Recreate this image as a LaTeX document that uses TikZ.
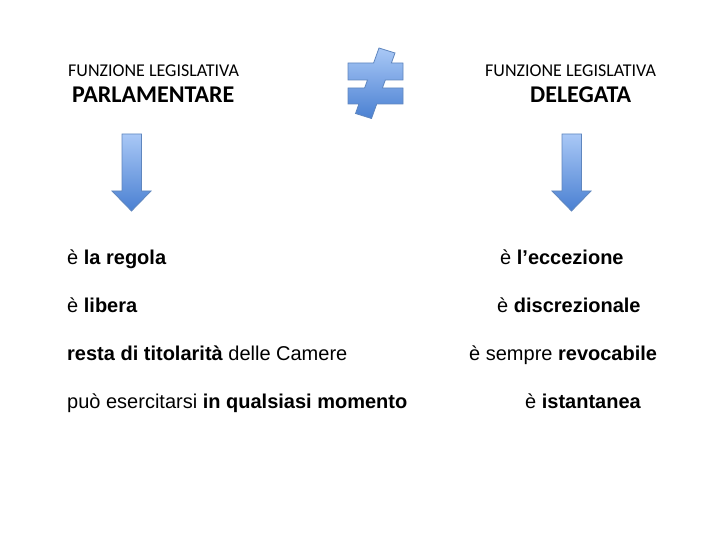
\documentclass[tikz,border=0pt]{standalone}
\usepackage{fontspec}
\setmainfont{Liberation Sans}
\newfontfamily\calib{Carlito}
\definecolor{bluetop}{HTML}{A9C8F6}
\definecolor{bluebot}{HTML}{4A80D2}
\definecolor{blueline}{HTML}{5F86BE}
\tikzset{
  blueshape/.style={draw=blueline, line width=0.8pt, top color=bluetop, bottom color=bluebot},
  head/.style={anchor=base west, inner sep=0pt, font=\calib\fontsize{18}{20}\selectfont},
  headbig/.style={anchor=base west, inner sep=0pt, font=\calib\bfseries\fontsize{24}{26}\selectfont},
  item/.style={anchor=base west, inner sep=0pt, font=\fontsize{20}{22}\selectfont}
}
\begin{document}
\begin{tikzpicture}[x=1pt, y=-1pt]
        \useasboundingbox (0,0) rectangle (720,540);
        \pgfmathsetmacro{\dy}{48};
        % titles
        \node (hl) [head] at (68, 77) {FUNZIONE LEGISLATIVA};
        \node (hlb) [headbig] at (72, 103) {PARLAMENTARE};
        \node (hr) [head] at (485, 77) {FUNZIONE LEGISLATIVA};
        \node (hrb) [headbig] at (530, 103) {DELEGATA};
        % not equal sign
        \draw [blueshape] (379,48) -- (395,53) -- (391.4,63) -- (403,63) -- (403,80)
            -- (385.3,80) -- (382.4,88) -- (403,88) -- (403,104) -- (376.7,104)
            -- (371.5,118.5) -- (355.5,113.5) -- (358.9,104) -- (348,104) -- (348,88)
            -- (364.6,88) -- (367.5,80) -- (348,80) -- (348,63) -- (373.6,63) -- cycle;
        % arrows
        \draw [blueshape] (122,134) -- (141.5,134) -- (141.5,191) -- (151,191) -- (131.5,211)
            -- (112,191) -- (122,191) -- cycle;
        \draw [blueshape] (562,134) -- (581.5,134) -- (581.5,191) -- (591,191) -- (571.5,211)
            -- (552,191) -- (562,191) -- cycle;
        % left column
        \node (l1) [item] at (67, 264) {è \textbf{la regola}};
        \node (l2) [item] at (67, 264+\dy) {è \textbf{libera}};
        \node (l3) [item] at (67, 264+2*\dy) {\textbf{resta di titolarità} delle Camere};
        \node (l4) [item] at (67, 264+3*\dy) {può esercitarsi \textbf{in qualsiasi momento}};
        % right column
        \node (r1) [item] at (500, 264) {è \textbf{l’eccezione}};
        \node (r2) [item] at (497, 264+\dy) {è \textbf{discrezionale}};
        \node (r3) [item] at (469, 264+2*\dy) {è sempre \textbf{revocabile}};
        \node (r4) [item] at (525, 264+3*\dy) {è \textbf{istantanea}};
\end{tikzpicture}
\end{document}
